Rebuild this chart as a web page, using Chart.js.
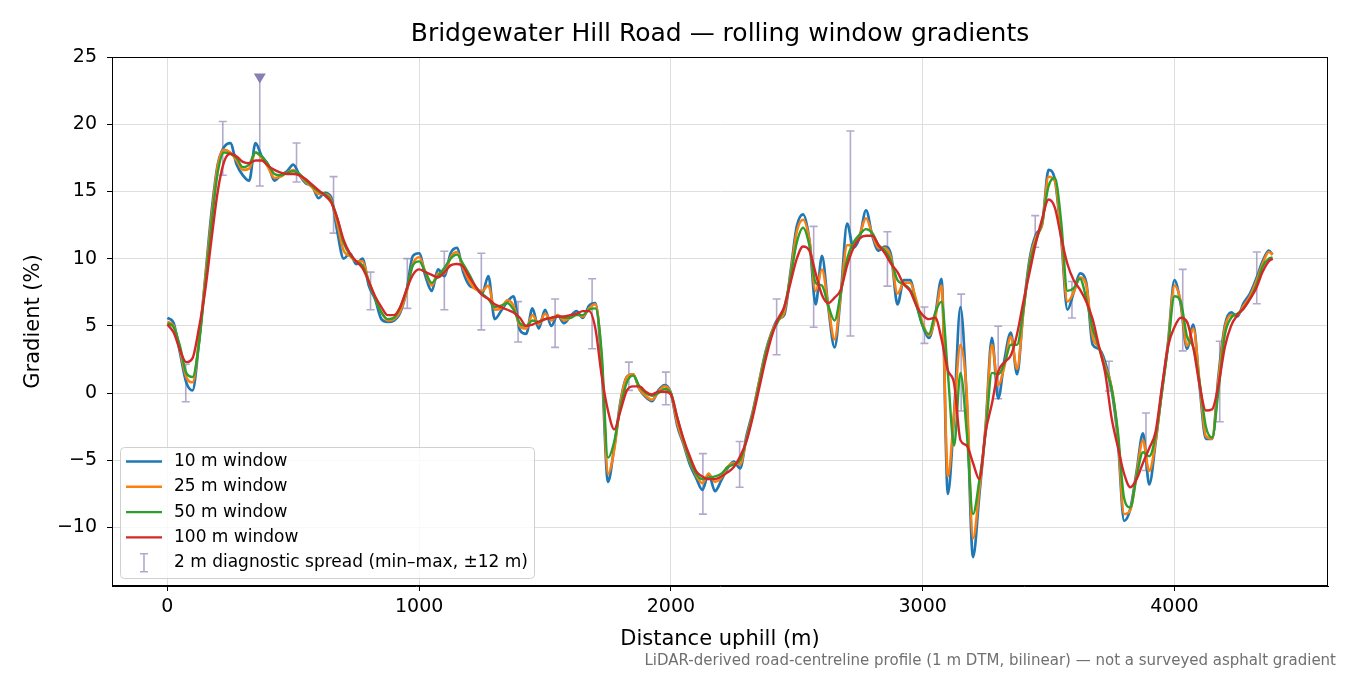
<!DOCTYPE html>
<html>
<head>
<meta charset="utf-8">
<title>Bridgewater Hill Road gradients</title>
<script src="https://cdn.jsdelivr.net/npm/chart.js@4.4.1/dist/chart.umd.min.js"></script>
<style>
  body { margin: 0; background: #fff; }
  canvas { display: block; }
</style>
</head>
<body>
<canvas id="chart" width="1350" height="675"></canvas>
<script>
// distance along the road (m) for every sample of the rolling-window series
const distance = [
  0, 25, 50, 75, 100, 125, 150, 175, 200, 225, 250, 275, 300, 325, 350, 375, 400, 425, 450, 475,
  500, 525, 550, 575, 600, 625, 650, 675, 700, 725, 750, 775, 800, 825, 850, 875, 900, 925, 950, 975,
  1000, 1025, 1050, 1075, 1100, 1125, 1150, 1175, 1200, 1225, 1250, 1275, 1300, 1325, 1350, 1375, 1400, 1425, 1450, 1475,
  1500, 1525, 1550, 1575, 1600, 1625, 1650, 1675, 1700, 1725, 1750, 1775, 1800, 1825, 1850, 1875, 1900, 1925, 1950, 1975,
  2000, 2025, 2050, 2075, 2100, 2125, 2150, 2175, 2200, 2225, 2250, 2275, 2300, 2325, 2350, 2375, 2400, 2425, 2450, 2475,
  2500, 2525, 2550, 2575, 2600, 2625, 2650, 2675, 2700, 2725, 2750, 2775, 2800, 2825, 2850, 2875, 2900, 2925, 2950, 2975,
  3000, 3025, 3050, 3075, 3100, 3125, 3150, 3175, 3200, 3225, 3250, 3275, 3300, 3325, 3350, 3375, 3400, 3425, 3450, 3475,
  3500, 3525, 3550, 3575, 3600, 3625, 3650, 3675, 3700, 3725, 3750, 3775, 3800, 3825, 3850, 3875, 3900, 3925, 3950, 3975,
  4000, 4025, 4050, 4075, 4100, 4125, 4150, 4175, 4200, 4225, 4250, 4275, 4300, 4325, 4350, 4375, 4390
];

// gradient (%) per window size
const grad10 = [
  5.6, 5.2, 3.0, 0.8, 0.2, 3.7, 8.5, 13.4, 17.0, 18.3, 18.6, 17.0, 16.2, 15.8, 18.6, 17.6, 17.0, 15.8, 16.2, 16.5,
  17.0, 16.2, 15.6, 15.4, 14.5, 14.9, 14.6, 12.0, 10.0, 10.4, 9.6, 10.0, 8.0, 7.0, 5.5, 5.3, 5.4, 6.0, 7.6, 10.2,
  10.4, 8.7, 7.6, 9.2, 8.7, 10.4, 10.8, 9.0, 8.0, 7.8, 7.4, 8.7, 5.5, 6.1, 6.8, 7.2, 4.7, 4.4, 6.3, 4.8,
  6.2, 5.0, 5.8, 5.2, 5.7, 6.1, 5.6, 6.5, 6.7, 2.0, -6.6, -4.0, -0.6, 1.2, 1.4, 0.3, -0.3, -0.6, 0.2, 0.6,
  0.0, -2.4, -3.8, -5.3, -6.3, -7.2, -6.0, -7.3, -6.5, -5.6, -5.1, -5.6, -3.2, -1.4, 0.8, 3.0, 4.5, 5.5, 5.8, 9.0,
  12.4, 13.3, 11.4, 6.6, 10.2, 6.4, 3.4, 7.4, 12.6, 10.8, 11.6, 13.6, 11.7, 10.6, 10.9, 10.2, 6.6, 8.4, 8.4, 6.6,
  5.0, 4.1, 5.8, 8.5, -7.5, -1.5, 6.4, -0.5, -12.2, -7.6, -2.5, 4.1, -0.4, 2.5, 4.5, 1.4, 6.2, 10.0, 11.8, 12.6,
  16.6, 15.9, 11.6, 6.2, 7.5, 8.9, 8.2, 3.6, 3.3, 2.3, 0.3, -3.4, -9.5, -8.6, -5.8, -3.0, -6.8, -3.7, 0.2, 3.8,
  8.4, 6.6, 3.3, 5.1, 0.5, -3.4, -3.4, 1.3, 5.0, 6.0, 5.7, 6.7, 7.4, 8.5, 9.8, 10.6, 10.3
];
const grad25 = [
  5.3, 5.0, 3.2, 1.2, 0.8, 3.8, 8.4, 13.0, 16.9, 18.1, 17.9, 17.3, 16.6, 16.7, 17.9, 17.5, 16.8, 16.0, 16.1, 16.4,
  16.6, 16.2, 15.7, 15.3, 14.8, 14.8, 14.4, 12.6, 10.6, 10.2, 9.8, 9.8, 8.3, 7.1, 6.0, 5.4, 5.5, 6.1, 7.5, 9.6,
  10.1, 9.0, 8.0, 8.9, 8.9, 10.1, 10.5, 9.3, 8.3, 7.7, 7.6, 8.0, 6.2, 6.3, 6.9, 6.5, 5.0, 4.8, 5.8, 5.1,
  5.9, 5.4, 5.8, 5.4, 5.6, 5.9, 5.7, 6.3, 6.6, 2.6, -6.0, -4.2, -0.7, 1.2, 1.4, 0.3, -0.2, -0.5, 0.1, 0.5,
  0.0, -2.2, -3.7, -5.1, -6.1, -6.7, -6.0, -6.6, -6.3, -5.5, -5.2, -5.3, -3.4, -1.5, 0.8, 2.9, 4.5, 5.4, 6.0, 8.8,
  12.0, 12.9, 11.4, 7.6, 9.2, 6.5, 4.0, 7.4, 11.0, 11.0, 11.8, 13.0, 11.8, 10.8, 10.8, 10.0, 7.4, 8.2, 8.2, 6.9,
  5.2, 4.3, 5.6, 8.0, -6.2, -1.5, 3.6, 0.0, -10.8, -7.2, -2.6, 3.6, 0.6, 2.0, 4.2, 1.8, 6.0, 9.8, 11.6, 12.6,
  16.1, 15.8, 11.8, 6.8, 7.5, 8.6, 8.0, 4.2, 3.4, 2.0, 0.5, -3.1, -9.0, -8.7, -6.0, -3.5, -5.8, -3.6, 0.1, 3.7,
  8.0, 6.8, 3.5, 4.8, 0.8, -3.2, -3.4, 1.0, 4.8, 5.8, 5.8, 6.5, 7.2, 8.3, 9.6, 10.5, 10.3
];
const grad50 = [
  5.2, 4.9, 3.5, 1.5, 1.2, 3.6, 8.0, 12.5, 16.4, 17.9, 17.8, 17.5, 16.8, 17.0, 17.9, 17.6, 17.0, 16.3, 16.2, 16.4,
  16.5, 16.3, 15.8, 15.4, 15.0, 14.8, 14.3, 13.0, 11.2, 10.3, 9.8, 9.5, 8.3, 7.0, 6.0, 5.5, 5.6, 6.4, 7.7, 9.5,
  9.8, 9.0, 8.2, 8.7, 9.3, 10.0, 10.3, 9.6, 8.8, 7.9, 7.4, 7.0, 6.4, 6.5, 6.7, 6.2, 5.2, 5.0, 5.4, 5.3,
  5.5, 5.6, 5.7, 5.6, 5.6, 5.8, 5.8, 6.2, 6.3, 3.0, -4.8, -3.6, -1.0, 0.8, 1.3, 0.5, 0.0, -0.2, 0.0, 0.3,
  0.0, -1.8, -3.5, -5.0, -6.0, -6.4, -6.3, -6.2, -6.0, -5.5, -5.3, -5.0, -3.5, -1.6, 0.6, 2.8, 4.4, 5.3, 6.4, 8.6,
  11.2, 12.3, 11.0, 8.2, 8.0, 6.5, 5.4, 7.5, 10.0, 11.2, 11.8, 12.2, 11.9, 11.0, 10.6, 9.8, 8.4, 8.1, 7.7, 6.6,
  5.0, 4.4, 6.0, 6.8, 1.5, -3.9, 1.5, -2.9, -9.0, -6.5, -3.0, 1.5, 1.4, 2.2, 3.6, 3.6, 6.2, 9.6, 11.3, 12.8,
  15.4, 16.0, 12.8, 7.6, 7.8, 8.5, 7.0, 4.8, 3.4, 1.8, 0.4, -2.8, -7.8, -8.5, -6.2, -4.4, -4.7, -3.2, 0.0, 3.5,
  7.2, 6.8, 4.2, 3.4, 0.8, -2.5, -3.3, 0.2, 4.3, 5.6, 5.9, 6.3, 7.0, 8.0, 9.4, 10.0, 10.1
];
const grad100 = [
  5.1, 4.5, 3.2, 2.3, 2.6, 4.8, 7.6, 11.4, 15.0, 17.2, 17.8, 17.6, 17.2, 17.1, 17.3, 17.3, 16.9, 16.6, 16.4, 16.3,
  16.3, 16.2, 15.9, 15.5, 15.1, 14.7, 14.2, 13.0, 11.4, 10.4, 9.8, 9.3, 8.3, 7.2, 6.4, 5.8, 5.8, 6.4, 7.7, 8.8,
  9.2, 9.0, 8.8, 8.6, 9.0, 9.5, 9.6, 9.4, 8.6, 7.9, 7.3, 7.0, 6.6, 6.4, 6.2, 6.0, 5.6, 5.0, 5.1, 5.3,
  5.5, 5.6, 5.7, 5.7, 5.8, 5.9, 6.1, 6.1, 4.8, 1.3, -1.3, -2.7, -1.3, 0.2, 0.5, 0.5, 0.1, -0.1, 0.1, 0.1,
  -0.1, -1.8, -3.4, -4.7, -5.8, -6.2, -6.4, -6.4, -6.2, -5.9, -5.5, -4.7, -3.6, -1.8, 0.3, 2.4, 4.2, 5.5, 6.4, 8.2,
  10.0, 10.9, 10.6, 8.9, 7.3, 6.7, 7.1, 7.7, 9.5, 10.8, 11.5, 11.7, 11.7, 11.0, 10.4, 9.6, 9.0, 8.1, 7.6, 6.5,
  5.8, 5.5, 5.6, 4.0, 1.7, 0.7, -3.5, -3.9, -5.2, -6.4, -2.9, -0.8, 1.6, 2.3, 2.8, 4.4, 6.8, 9.0, 11.2, 13.0,
  14.4, 13.8, 11.6, 9.6, 8.4, 7.7, 6.8, 5.5, 3.5, 1.5, -1.8, -4.0, -6.0, -7.0, -6.4, -5.2, -4.1, -2.9, 0.4, 3.5,
  4.9, 5.6, 5.3, 3.4, 0.6, -1.3, -1.2, 0.6, 3.4, 5.0, 5.8, 6.3, 7.0, 7.8, 9.0, 9.8, 10.0
];

// 2 m diagnostic spread: min–max of the 2 m gradient within ±12 m
const spreadAt = [73, 220, 367, 513, 660, 807, 953, 1100, 1247, 1393, 1540, 1687, 1833, 1980, 2127,
                  2273, 2420, 2567, 2713, 2860, 3007, 3153, 3300, 3447, 3593, 3740, 3887, 4033, 4180, 4327];
const spreadLo = [-0.65, 16.2, 15.4, 15.7, 11.9, 6.2, 6.3, 6.2, 4.7, 3.8, 3.4, 3.3, 0.2, -0.87, -9.0,
                  -7.0, 2.85, 4.9, 4.25, 7.96, 3.7, -1.33, -0.42, 10.85, 5.58, 0.15, -5.76, 3.14, -2.13, 6.65];
const spreadHi = [2.15, 20.2, 23.4, 18.6, 16.1, 9.0, 10.0, 10.55, 10.4, 6.8, 7.0, 8.5, 2.3, 1.56, -4.5,
                  -3.6, 7.0, 12.4, 19.5, 12.0, 6.4, 7.36, 4.97, 13.2, 8.3, 2.37, -1.48, 9.2, 3.86, 10.5];
const spreadClipped = [367];  // max runs off the display, marked with a triangle

const xTicks = [0, 1000, 2000, 3000, 4000];
const yTicks = [-10, -5, 0, 5, 10, 15, 20, 25];

const series = [
  { label: '10 m window', values: grad10, color: '#1f77b4', width: 2.7 },
  { label: '25 m window', values: grad25, color: '#ff7f0e', width: 2.5 },
  { label: '50 m window', values: grad50, color: '#2ca02c', width: 2.4 },
  { label: '100 m window', values: grad100, color: '#d62728', width: 2.4 }
];

const SPREAD_COLOR = 'rgba(128,112,172,0.6)';
const FONT = '"DejaVu Sans", "Liberation Sans", sans-serif';

Chart.defaults.font.family = FONT;
Chart.defaults.color = '#000';

const datasets = series.map((s, i) => ({
  label: s.label,
  data: distance.map((d, j) => ({ x: d, y: s.values[j] })),
  borderColor: s.color,
  borderWidth: s.width,
  pointRadius: 0,
  fill: false,
  cubicInterpolationMode: 'monotone',
  order: series.length - i
}));

// error bars drawn under the lines
const spreadPlugin = {
  id: 'spread',
  beforeDatasetsDraw(chart) {
    const { ctx, chartArea, scales: { x, y } } = chart;
    ctx.save();
    ctx.beginPath();
    ctx.rect(chartArea.left, chartArea.top, chartArea.right - chartArea.left, chartArea.bottom - chartArea.top);
    ctx.clip();
    ctx.strokeStyle = SPREAD_COLOR;
    ctx.lineWidth = 1.6;
    spreadAt.forEach((d, i) => {
      const px = x.getPixelForValue(d);
      const top = y.getPixelForValue(spreadHi[i]);
      const bot = y.getPixelForValue(spreadLo[i]);
      ctx.beginPath();
      ctx.moveTo(px, top); ctx.lineTo(px, bot);
      ctx.moveTo(px - 4, bot); ctx.lineTo(px + 4, bot);
      if (!spreadClipped.includes(d)) {
        ctx.moveTo(px - 4, top); ctx.lineTo(px + 4, top);
      }
      ctx.stroke();
    });
    ctx.restore();
  },
  afterDatasetsDraw(chart) {
    const { ctx, scales: { x, y } } = chart;
    ctx.save();
    ctx.fillStyle = '#8a7fb2';
    spreadClipped.forEach(d => {
      const i = spreadAt.indexOf(d);
      const px = x.getPixelForValue(d);
      const py = y.getPixelForValue(spreadHi[i]);
      ctx.beginPath();
      ctx.moveTo(px - 6, py - 5);
      ctx.lineTo(px + 6, py - 5);
      ctx.lineTo(px, py + 5);
      ctx.closePath();
      ctx.fill();
    });
    ctx.restore();
  }
};

// frame, titles, legend, footnote
const decorPlugin = {
  id: 'decor',
  afterDraw(chart) {
    const { ctx, chartArea: a } = chart;
    ctx.save();
    ctx.strokeStyle = '#000';
    ctx.lineWidth = 1;
    ctx.strokeRect(a.left + 0.5, a.top + 0.5, a.right - a.left - 1, a.bottom - a.top - 1);

    const midX = (a.left + a.right) / 2;
    ctx.fillStyle = '#000';
    ctx.textAlign = 'center';
    ctx.textBaseline = 'middle';
    ctx.font = '25px ' + FONT;
    ctx.fillText('Bridgewater Hill Road \u2014 rolling window gradients', midX, 34);
    ctx.font = '21px ' + FONT;
    ctx.fillText('Distance uphill (m)', midX, 640);
    ctx.save();
    ctx.translate(34, (a.top + a.bottom) / 2);
    ctx.rotate(-Math.PI / 2);
    ctx.fillText('Gradient (%)', 0, 0);
    ctx.restore();

    ctx.font = '15px ' + FONT;
    ctx.fillStyle = '#707070';
    ctx.textAlign = 'right';
    ctx.fillText('LiDAR-derived road-centreline profile (1 m DTM, bilinear) \u2014 not a surveyed asphalt gradient', 1336, 661);

    // legend
    const lx = 120.5, ly = 447.5, lw = 414, lh = 131;
    ctx.beginPath();
    ctx.roundRect(lx, ly, lw, lh, 4);
    ctx.fillStyle = 'rgba(255,255,255,0.8)';
    ctx.fill();
    ctx.strokeStyle = '#d0d0d0';
    ctx.stroke();
    ctx.font = '17px ' + FONT;
    ctx.textAlign = 'left';
    ctx.fillStyle = '#000';
    const rowY = i => 461.5 + i * 25.3;
    series.forEach((s, i) => {
      ctx.strokeStyle = s.color;
      ctx.lineWidth = s.width;
      ctx.beginPath();
      ctx.moveTo(126, rowY(i));
      ctx.lineTo(162, rowY(i));
      ctx.stroke();
      ctx.fillText(s.label, 174, rowY(i));
    });
    const ey = rowY(4);
    ctx.strokeStyle = SPREAD_COLOR;
    ctx.lineWidth = 1.6;
    ctx.beginPath();
    ctx.moveTo(144, ey - 9); ctx.lineTo(144, ey + 9);
    ctx.moveTo(140, ey - 9); ctx.lineTo(148, ey - 9);
    ctx.moveTo(140, ey + 9); ctx.lineTo(148, ey + 9);
    ctx.stroke();
    ctx.fillText('2 m diagnostic spread (min\u2013max, \u00b112 m)', 174, ey);
    ctx.restore();
  }
};

new Chart(document.getElementById('chart'), {
  type: 'line',
  data: { datasets },
  options: {
    responsive: false,
    animation: false,
    devicePixelRatio: 1,
    layout: { padding: { top: 57, right: 22, left: 0, bottom: 0 } },
    plugins: {
      legend: { display: false },
      title: { display: false },
      tooltip: { enabled: false }
    },
    scales: {
      x: {
        type: 'linear',
        min: -220,
        max: 4610,
        afterFit(s) { s.height = 89; },
        afterBuildTicks(s) { s.ticks = xTicks.map(v => ({ value: v })); },
        grid: { color: '#dedede', tickColor: '#000', tickLength: 5, lineWidth: 1 },
        border: { color: '#000', width: 1 },
        ticks: { padding: 5, font: { size: 19 }, color: '#000', maxRotation: 0, callback: v => String(v) }
      },
      y: {
        type: 'linear',
        min: -14.35,
        max: 25,
        afterFit(s) { s.width = 112; },
        afterBuildTicks(s) { s.ticks = yTicks.map(v => ({ value: v })); },
        grid: { color: '#dedede', tickColor: '#000', tickLength: 5, lineWidth: 1 },
        border: { color: '#000', width: 1 },
        ticks: { padding: 10, font: { size: 19 }, color: '#000',
                 callback: v => v < 0 ? '\u2212' + Math.abs(v) : String(v) }
      }
    }
  },
  plugins: [spreadPlugin, decorPlugin]
});
</script>
</body>
</html>
